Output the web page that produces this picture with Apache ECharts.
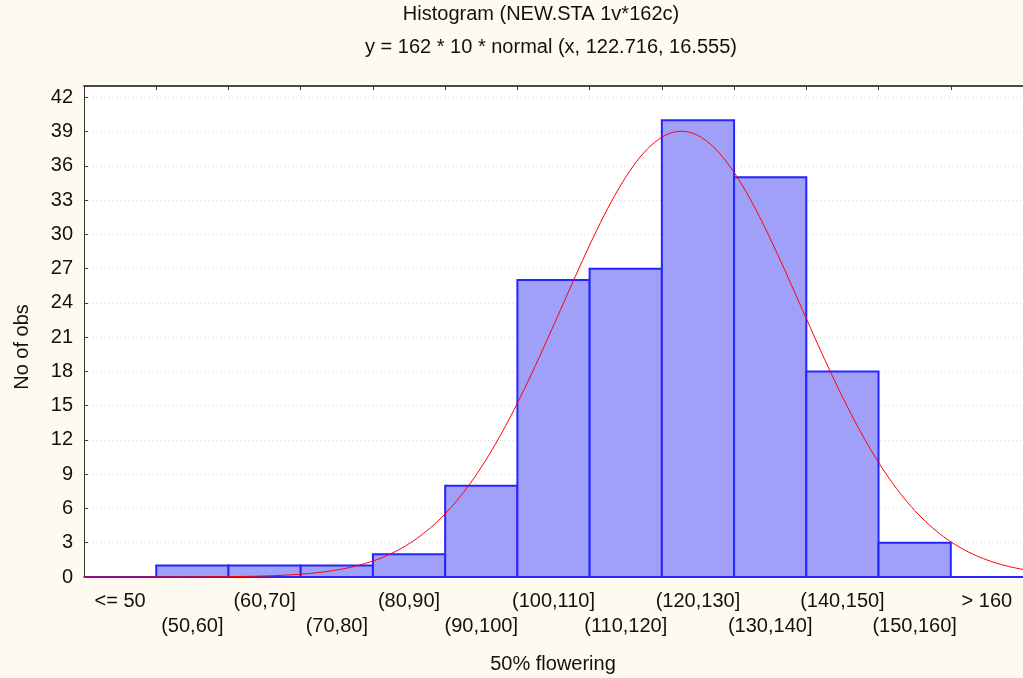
<!DOCTYPE html>
<html>
<head>
<meta charset="utf-8">
<script src="https://cdn.jsdelivr.net/npm/echarts@6/dist/echarts.min.js"></script>
<style>
html,body{margin:0;padding:0;background:#FEFAF0;}
#chart{width:1023px;height:678px;}
</style>
</head>
<body>
<div id="chart"></div>
<script>
// Data
const categories = ['<= 50','(50,60]','(60,70]','(70,80]','(80,90]','(90,100]','(100,110]','(110,120]','(120,130]','(130,140]','(140,150]','(150,160]','> 160'];
const counts = [0,1,1,1,2,8,26,27,40,35,18,3,0];
const yTicks = [0,3,6,9,12,15,18,21,24,27,30,33,36,39,42];
// Fitted normal curve parameters, as given in the chart subtitle
const nObs = 162, binWidth = 10, mean = 122.716, sd = 16.555;
const curveX = [];
for (let x = 40; x <= 170; x += 0.5) curveX.push(x);

const curve = curveX.map(x => {
  const z = (x - mean) / sd;
  return [x, nObs * binWidth * Math.exp(-0.5 * z * z) / (sd * Math.sqrt(2 * Math.PI))];
});

const FONT = '"Liberation Sans", Arial, sans-serif';
const FS = 20;
const chart = echarts.init(document.getElementById('chart'));
chart.setOption({
  backgroundColor: '#FEFAF0',
  animation: false,
  textStyle: { fontFamily: FONT },
  grid: { left: 84, right: -1, top: 86, bottom: 101, show: true, backgroundColor: '#FFFFFF', borderWidth: 0 },
  graphic: [
    { type: 'text', x: 541, y: 14, style: { text: 'Histogram (NEW.STA 1v*162c)', font: FS + 'px ' + FONT, fill: '#111', textAlign: 'center', textVerticalAlign: 'middle' } },
    { type: 'text', x: 551, y: 47, style: { text: 'y = 162 * 10 * normal (x, 122.716, 16.555)', font: FS + 'px ' + FONT, fill: '#111', textAlign: 'center', textVerticalAlign: 'middle' } },
    { type: 'text', x: 553, y: 664, style: { text: '50% flowering', font: FS + 'px ' + FONT, fill: '#111', textAlign: 'center', textVerticalAlign: 'middle' } },
    { type: 'text', x: 22, y: 347, rotation: Math.PI / 2, style: { text: 'No of obs', font: FS + 'px ' + FONT, fill: '#111', textAlign: 'center', textVerticalAlign: 'middle' } }
  ],
  xAxis: [
    {
      type: 'category', data: categories, position: 'bottom', boundaryGap: true,
      axisLine: { lineStyle: { color: '#111', width: 1.5 } },
      axisTick: { show: false },
      axisLabel: {
        interval: 0, margin: 12, color: '#111', fontSize: FS, lineHeight: 25, fontFamily: FONT,
        formatter: (v, i) => (i % 2 ? '\n' + v : v)
      },
      splitLine: { show: false }
    },
    {
      type: 'value', min: 40, max: 170, show: false, gridIndex: 0
    },
    {
      type: 'category', data: categories, position: 'top', boundaryGap: true,
      axisLine: { show: true, lineStyle: { color: '#111', width: 1.5 } },
      axisTick: { show: true, inside: true, length: 4, lineStyle: { color: '#333' } },
      axisLabel: { show: false }
    }
  ],
  yAxis: {
    type: 'value', min: 0, max: 43, interval: 3,
    axisLine: { show: true, lineStyle: { color: '#333', width: 1 } },
    axisTick: { show: true, inside: true, length: 4, lineStyle: { color: '#444' } },
    axisLabel: {
      color: '#111', fontSize: FS, margin: 11, fontFamily: FONT,
      formatter: v => (yTicks.indexOf(v) >= 0 ? String(v) : '')
    },
    splitLine: { show: true, lineStyle: { color: '#D8D8D8', type: [1, 3], width: 1 } }
  },
  series: [
    {
      type: 'custom', xAxisIndex: 0, yAxisIndex: 0, z: 2,
      data: counts.map((v, i) => [i, v]),
      encode: { x: 0, y: 1 },
      renderItem: function (params, api) {
        const i = api.value(0), v = api.value(1);
        const top = api.coord([i, v]);
        const base = api.coord([i, 0]);
        const w = api.size([1, 0])[0];
        return {
          type: 'rect',
          shape: { x: top[0] - w / 2, y: top[1], width: w, height: base[1] - top[1] },
          style: { fill: '#A0A0F8', stroke: '#2525FF', lineWidth: 2 }
        };
      }
    },
    {
      type: 'line', data: curve, xAxisIndex: 1, showSymbol: false, smooth: false,
      lineStyle: { color: '#FF0000', width: 1 }, z: 3
    }
  ]
});
</script>
</body>
</html>
